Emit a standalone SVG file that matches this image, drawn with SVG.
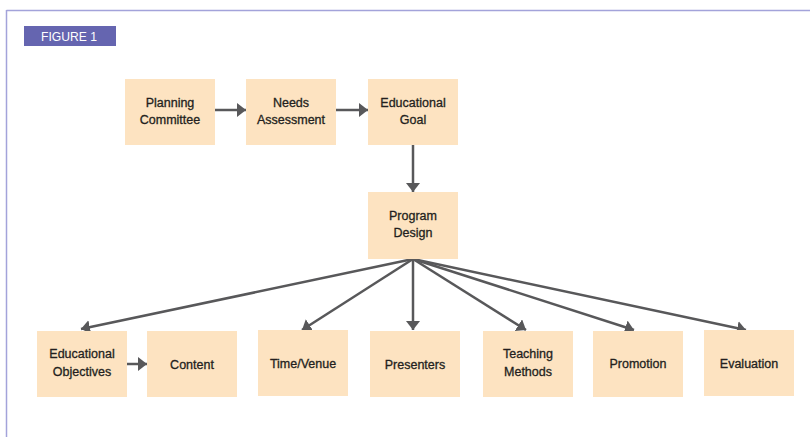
<svg xmlns="http://www.w3.org/2000/svg" width="810" height="437" viewBox="0 0 810 437">
<style>
.box{fill:#FDE3C1}
.t{font-family:"Liberation Sans",Arial,sans-serif;font-size:12.5px;fill:#231F20;stroke:#231F20;stroke-width:0.3;text-anchor:middle}
.c{stroke:#58585A;stroke-width:2.5;fill:none}
</style>
<defs>
<marker id="ah" viewBox="0 0 9 14" refX="9" refY="7" markerWidth="3.6" markerHeight="5.6" orient="auto" markerUnits="strokeWidth">
<path d="M0,0 L9,7 L0,14 Z" fill="#58585A"/>
</marker>
</defs>
<rect width="810" height="437" fill="#fff"/>
<g id="frame">
<line x1="6.5" y1="10.5" x2="810" y2="10.5" stroke="#A3A3DA" stroke-width="1.5"/>
<line x1="6.5" y1="10" x2="6.5" y2="437" stroke="#A3A3DA" stroke-width="1.5"/>
</g>
<g id="label">
<rect x="24" y="26" width="92" height="20" fill="#6565B0"/>
<text x="69" y="41" font-family="'Liberation Sans',Arial,sans-serif" font-size="13" fill="#fff" text-anchor="middle" textLength="56" lengthAdjust="spacingAndGlyphs">FIGURE 1</text>
</g>
<g id="connectors">
<line class="c" x1="215" y1="110" x2="246" y2="110" marker-end="url(#ah)"/>
<line class="c" x1="336" y1="110" x2="368" y2="110" marker-end="url(#ah)"/>
<line class="c" x1="413" y1="145" x2="413" y2="192" marker-end="url(#ah)"/>
<line class="c" x1="413" y1="259" x2="81" y2="329" marker-end="url(#ah)"/>
<line class="c" x1="413" y1="259" x2="302" y2="330" marker-end="url(#ah)"/>
<line class="c" x1="413" y1="259" x2="413" y2="330" marker-end="url(#ah)"/>
<line class="c" x1="413" y1="259" x2="526" y2="330" marker-end="url(#ah)"/>
<line class="c" x1="413" y1="259" x2="634" y2="330" marker-end="url(#ah)"/>
<line class="c" x1="413" y1="259" x2="746" y2="330" marker-end="url(#ah)"/>
<line class="c" x1="127" y1="364" x2="147" y2="364" marker-end="url(#ah)"/>
</g>
<g id="n-planning"><rect class="box" x="125" y="79" width="90" height="66"/><text class="t" x="170" y="107">Planning</text><text class="t" x="170" y="124">Committee</text></g>
<g id="n-needs"><rect class="box" x="246" y="79" width="90" height="66"/><text class="t" x="291" y="107">Needs</text><text class="t" x="291" y="124">Assessment</text></g>
<g id="n-goal"><rect class="box" x="368" y="79" width="90" height="66"/><text class="t" x="413" y="107">Educational</text><text class="t" x="413" y="124">Goal</text></g>
<g id="n-program"><rect class="box" x="368" y="192" width="90" height="67"/><text class="t" x="413" y="220">Program</text><text class="t" x="413" y="237">Design</text></g>
<g id="n-objectives"><rect class="box" x="37" y="331" width="90" height="66"/><text class="t" x="82" y="358">Educational</text><text class="t" x="82" y="376">Objectives</text></g>
<g id="n-content"><rect class="box" x="147" y="331" width="90" height="66"/><text class="t" x="192" y="369">Content</text></g>
<g id="n-time"><rect class="box" x="258" y="330" width="90" height="66"/><text class="t" x="303" y="368">Time/Venue</text></g>
<g id="n-presenters"><rect class="box" x="370" y="331" width="90" height="66"/><text class="t" x="415" y="369">Presenters</text></g>
<g id="n-teaching"><rect class="box" x="483" y="331" width="90" height="66"/><text class="t" x="528" y="358">Teaching</text><text class="t" x="528" y="376">Methods</text></g>
<g id="n-promotion"><rect class="box" x="593" y="331" width="90" height="66"/><text class="t" x="638" y="368">Promotion</text></g>
<g id="n-evaluation"><rect class="box" x="704" y="330" width="90" height="66"/><text class="t" x="749" y="368">Evaluation</text></g>
</svg>
